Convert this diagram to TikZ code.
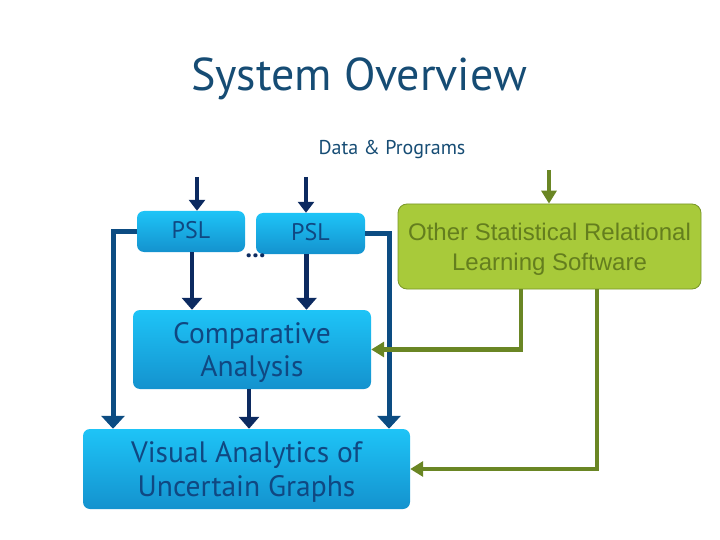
\documentclass[tikz,border=0pt]{standalone}
\usepackage{fontspec}
\setmainfont{PT Sans}
\newfontfamily\arialf{Liberation Sans}
\usetikzlibrary{arrows.meta}
\definecolor{titleblue}{RGB}{22,76,116}
\definecolor{boxtxt}{RGB}{16,72,130}
\definecolor{boxtop}{RGB}{30,196,247}
\definecolor{boxbot}{RGB}{20,146,206}
\definecolor{navy}{RGB}{12,42,96}
\definecolor{steel}{RGB}{12,76,130}
\definecolor{gfill}{RGB}{168,202,58}
\definecolor{gdraw}{RGB}{120,150,40}
\definecolor{gtxt}{RGB}{100,126,30}
\definecolor{gline}{RGB}{106,134,36}
\newcommand\boxlines[2]{\raisebox{#1}[\height][\depth]{\begin{tabular}{@{}c@{}}#2\end{tabular}}}
\tikzset{
  bluebox/.style={rounded corners=7pt, top color=boxtop, bottom color=boxbot, draw=none,
    text=boxtxt, align=center, inner sep=0pt},
  greenbox/.style={rounded corners=9pt, fill=gfill, draw=gdraw, line width=0.8pt,
    text=gtxt, align=center, inner sep=0pt, font=\arialf\fontsize{24}{29.5}\selectfont},
  navyarrow/.style={draw=navy, line width=4.5pt, -{Triangle[width=20pt,length=12pt]}},
  navyin/.style={draw=navy, line width=4.5pt, -{Triangle[width=16pt,length=11pt]}},
  steelarrow/.style={draw=steel, line width=5pt, -{Triangle[width=23pt,length=13pt]}},
  greenarrow/.style={draw=gline, line width=4.5pt, -{Triangle[width=15pt,length=13pt]}},
}
\begin{document}
\begin{tikzpicture}[x=1pt,y=-1pt]
\useasboundingbox (0,0) rectangle (720,540);
\node[text=titleblue, font=\fontsize{46}{50}\selectfont] (title) at (359,78.5) {System Overview};
\node[text=titleblue, font=\fontsize{20}{24}\selectfont] (data) at (392,150) {Data \& Programs};

\node[bluebox, minimum width=108pt, minimum height=41pt, font=\fontsize{24}{28}\selectfont] (psl1) at (191,231.5) {\boxlines{-1.5pt}{PSL}};
\node[bluebox, minimum width=109pt, minimum height=41pt, font=\fontsize{24}{28}\selectfont] (psl2) at (310.5,233.5) {\boxlines{-1.5pt}{PSL}};
\node[text=navy, inner sep=0pt, font=\fontsize{26}{26}\selectfont\bfseries] (dots) at (255.5,255.5) {...};
\node[bluebox, minimum width=238pt, minimum height=79pt, font=\fontsize{29.5}{32.5}\selectfont] (ca) at (252,349.5) {\boxlines{-4pt}{Comparative\\Analysis}};
\node[bluebox, minimum width=327pt, minimum height=80pt, font=\fontsize{29.5}{34}\selectfont] (va) at (246.5,469) {\boxlines{-4pt}{Visual Analytics of\\Uncertain Graphs}};
\node[greenbox, minimum width=303pt, minimum height=85pt] (g) at (549.5,246.5) {\boxlines{-3pt}{Other Statistical Relational\\Learning Software}};

\coordinate (in1) at (197,177);
\coordinate (in2) at (306,177);
\coordinate (ing) at (549,170);
\coordinate (l1) at (113,0);
\coordinate (r1) at (389,0);

\draw[navyin] (in1) -- (in1 |- psl1.north);
\draw[navyin] (in2) -- (in2 |- psl2.north);
\draw[navyarrow] ([xshift=1pt]psl1.south) -- ([xshift=1pt]psl1.south |- ca.north);
\draw[navyarrow] ([xshift=-4pt]psl2.south) -- ([xshift=-4pt]psl2.south |- ca.north);
\draw[navyarrow] ([xshift=-3pt]ca.south) -- ([xshift=-3pt]ca.south |- va.north);
\draw[steelarrow] (psl1.west) -| (l1 |- va.north);
\draw[steelarrow] (psl2.east) -| (r1 |- va.north);

\draw[greenarrow] (ing) -- (ing |- g.north);
\draw[greenarrow] ([xshift=-28.5pt]g.south) |- (ca.east);
\draw[greenarrow] ([xshift=47.5pt]g.south) |- (va.east);
\end{tikzpicture}
\end{document}
